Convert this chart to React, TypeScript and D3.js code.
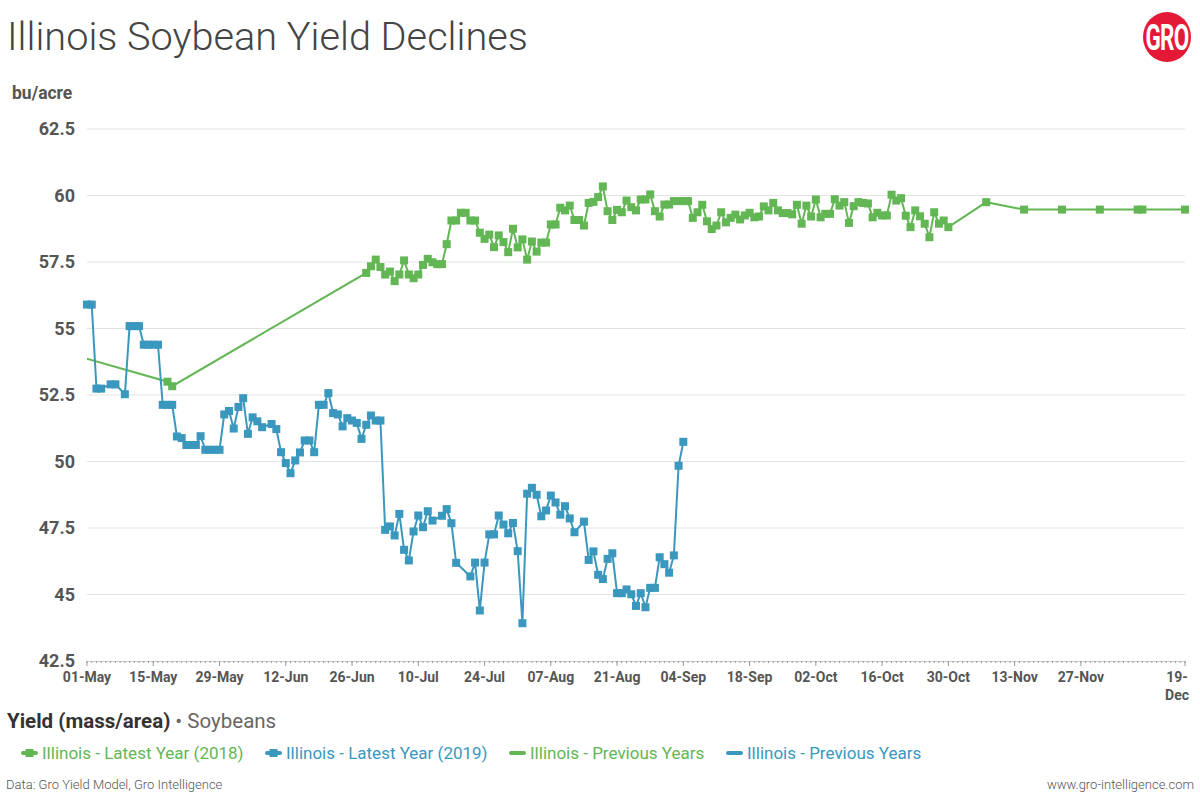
import * as d3 from 'd3';

const W = 1200;
const H = 800;
const plot = { left: 87, right: 1185, top: 129, bottom: 661 };

const GREEN = '#62b654';
const BLUE = '#3a97be';

const yTicks = [42.5, 45, 47.5, 50, 52.5, 55, 57.5, 60, 62.5];
const xTickDates = ['05-01', '05-15', '05-29', '06-12', '06-26', '07-10', '07-24', '08-07', '08-21', '09-04', '09-18', '10-02', '10-16', '10-30', '11-13', '11-27', '12-19'];

// Illinois - Latest Year (2019)
const dates2019 = [
  '05-01', '05-02', '05-03', '05-04', '05-06', '05-07', '05-09', '05-10', '05-11', '05-12', '05-13', '05-14', '05-15', '05-16',
  '05-17', '05-18', '05-19', '05-20', '05-21', '05-22', '05-23', '05-24', '05-25', '05-26', '05-27', '05-28', '05-29', '05-30',
  '05-31', '06-01', '06-02', '06-03', '06-04', '06-05', '06-06', '06-07', '06-09', '06-10', '06-11', '06-12', '06-13', '06-14',
  '06-15', '06-16', '06-17', '06-18', '06-19', '06-20', '06-21', '06-22', '06-23', '06-24', '06-25', '06-26', '06-27', '06-28',
  '06-29', '06-30', '07-01', '07-02', '07-03', '07-04', '07-05', '07-06', '07-07', '07-08', '07-09', '07-10', '07-11', '07-12',
  '07-13', '07-15', '07-16', '07-17', '07-18', '07-21', '07-22', '07-23', '07-24', '07-25', '07-26', '07-27', '07-28', '07-29',
  '07-30', '07-31', '08-01', '08-02', '08-03', '08-04', '08-05', '08-06', '08-07', '08-08', '08-09', '08-10', '08-11', '08-12',
  '08-14', '08-15', '08-16', '08-17', '08-18', '08-19', '08-20', '08-21', '08-22', '08-23', '08-24', '08-25', '08-26', '08-27',
  '08-28', '08-29', '08-30', '08-31', '09-01', '09-02', '09-03', '09-04',
];
const values2019 = [
  55.9, 55.9, 52.74, 52.74, 52.9, 52.9, 52.53, 55.09, 55.09, 55.09, 54.39, 54.39, 54.39, 54.39,
  52.13, 52.13, 52.13, 50.94, 50.88, 50.62, 50.62, 50.62, 50.95, 50.44, 50.44, 50.44, 50.44, 51.77,
  51.9, 51.24, 52.05, 52.38, 51.04, 51.66, 51.51, 51.29, 51.41, 51.22, 50.35, 49.94, 49.56, 50.04,
  50.34, 50.79, 50.79, 50.35, 52.13, 52.13, 52.57, 51.82, 51.77, 51.32, 51.63, 51.54, 51.45, 50.85,
  51.38, 51.73, 51.54, 51.54, 47.43, 47.56, 47.22, 48.03, 46.68, 46.28, 47.37, 47.97, 47.53, 48.13,
  47.78, 47.96, 48.21, 47.68, 46.19, 45.68, 46.2, 44.4, 46.2, 47.26, 47.26, 47.97, 47.63, 47.3,
  47.69, 46.63, 43.92, 48.79, 49.01, 48.75, 47.94, 48.16, 48.72, 48.46, 48.0, 48.32, 47.86, 47.34,
  47.74, 46.3, 46.62, 45.74, 45.58, 46.34, 46.55, 45.05, 45.05, 45.19, 45.01, 44.57, 45.05, 44.52,
  45.25, 45.25, 46.4, 46.14, 45.82, 46.47, 49.84, 50.74,
];

// Illinois - Latest Year (2018), first value lies before the axis start
const dates2018 = [
  '04-17', '05-18', '05-19', '06-29', '06-30', '07-01', '07-02', '07-03', '07-04', '07-05', '07-06', '07-07', '07-08', '07-09',
  '07-10', '07-11', '07-12', '07-13', '07-14', '07-15', '07-16', '07-17', '07-18', '07-19', '07-20', '07-21', '07-22', '07-23',
  '07-24', '07-25', '07-26', '07-27', '07-28', '07-29', '07-30', '07-31', '08-01', '08-02', '08-03', '08-04', '08-05', '08-06',
  '08-07', '08-08', '08-09', '08-10', '08-11', '08-12', '08-13', '08-14', '08-15', '08-16', '08-17', '08-18', '08-19', '08-20',
  '08-21', '08-22', '08-23', '08-24', '08-25', '08-26', '08-27', '08-28', '08-29', '08-30', '08-31', '09-01', '09-02', '09-03',
  '09-04', '09-05', '09-06', '09-07', '09-08', '09-09', '09-10', '09-11', '09-12', '09-13', '09-14', '09-15', '09-16', '09-17',
  '09-18', '09-19', '09-20', '09-21', '09-22', '09-23', '09-24', '09-25', '09-26', '09-27', '09-28', '09-29', '09-30', '10-01',
  '10-02', '10-03', '10-04', '10-05', '10-06', '10-07', '10-08', '10-09', '10-10', '10-11', '10-12', '10-13', '10-14', '10-15',
  '10-16', '10-17', '10-18', '10-19', '10-20', '10-21', '10-22', '10-23', '10-24', '10-25', '10-26', '10-27', '10-28', '10-29',
  '10-30', '11-07', '11-15', '11-23', '12-01', '12-09', '12-10', '12-19',
];
const values2018 = [
  54.57, 53.0, 52.83, 57.09, 57.34, 57.59, 57.31, 57.03, 57.14, 56.78, 57.03, 57.56, 57.03, 56.89,
  57.03, 57.39, 57.62, 57.49, 57.42, 57.42, 58.17, 59.06, 59.06, 59.35, 59.35, 59.06, 59.06, 58.6,
  58.37, 58.53, 58.06, 58.5, 58.25, 57.87, 58.75, 58.05, 58.35, 57.59, 58.27, 57.89, 58.23, 58.23,
  58.91, 58.91, 59.54, 59.44, 59.62, 59.08, 59.08, 58.87, 59.72, 59.76, 59.94, 60.34, 59.41, 59.08,
  59.46, 59.37, 59.81, 59.56, 59.44, 59.85, 59.85, 60.04, 59.41, 59.21, 59.66, 59.66, 59.79, 59.79,
  59.79, 59.79, 59.16, 59.37, 59.65, 59.03, 58.74, 58.87, 59.37, 58.99, 59.16, 59.28, 59.1, 59.25,
  59.35, 59.18, 59.21, 59.59, 59.44, 59.72, 59.44, 59.34, 59.34, 59.29, 59.65, 58.94, 59.62, 59.21,
  59.85, 59.18, 59.31, 59.31, 59.86, 59.62, 59.75, 58.97, 59.6, 59.75, 59.72, 59.7, 59.18, 59.35,
  59.25, 59.25, 60.03, 59.81, 59.9, 59.24, 58.81, 59.44, 59.22, 58.94, 58.43, 59.37, 58.94, 59.06,
  58.81, 59.75, 59.47, 59.47, 59.47, 59.47, 59.47, 59.47,
];

const legendItems = [
  { label: 'Illinois - Latest Year (2018)', color: GREEN, marker: true, x: 21 },
  { label: 'Illinois - Latest Year (2019)', color: BLUE, marker: true, x: 265 },
  { label: 'Illinois - Previous Years', color: GREEN, marker: false, x: 509 },
  { label: 'Illinois - Previous Years', color: BLUE, marker: false, x: 726 },
];

const parseDay = d3.timeParse('%Y-%m-%d');
const toDate = (s: string) => parseDay(`2019-${s}`) as Date;

type Pt = { date: Date; value: number };
const zip = (dates: string[], values: number[]): Pt[] => dates.map((d, i) => ({ date: toDate(d), value: values[i] }));

const series = [
  { key: 's2018', color: GREEN, data: zip(dates2018, values2018) },
  { key: 's2019', color: BLUE, data: zip(dates2019, values2019) },
];

export default function App() {
  const x = d3.scaleTime().domain([toDate('05-01'), toDate('12-19')]).range([plot.left, plot.right]);
  const y = d3.scaleLinear().domain([42.5, 62.5]).range([plot.bottom, plot.top]);
  const line = d3
    .line<Pt>()
    .x((d) => x(d.date))
    .y((d) => y(d.value));
  const fmt = d3.timeFormat('%d-%b');
  const minorTicks = d3.timeDay.range(toDate('05-01'), d3.timeDay.offset(toDate('12-19'), 1));
  const ms = 8;

  return (
    <div style={{ position: 'absolute', left: 0, top: 0 }}>
      <svg width={W} height={H} style={{ display: 'block', fontFamily: 'Roboto, sans-serif' }}>
        <rect width={W} height={H} fill="#fff" />
        <defs>
          <clipPath id="plot-clip">
            <rect x={plot.left} y={0} width={W - plot.left} height={H} />
          </clipPath>
        </defs>

        <text x={7} y={50} fontSize={39.7} fontWeight={300} fill="#444">
          Illinois Soybean Yield Declines
        </text>

        {/* logo */}
        <g transform="translate(1167,37)">
          <ellipse rx={24} ry={25} fill="#e31937" />
          <text
            x={0}
            y={10}
            textAnchor="middle"
            fontSize={30}
            fontWeight={700}
            fill="#fff"
            transform="scale(0.75,1.25)"
            style={{ letterSpacing: '-1px' }}
          >
            GRO
          </text>
        </g>

        <text x={12} y={99} fontSize={17.5} fontWeight={700} fill="#555">
          bu/acre
        </text>

        {/* grid + y labels */}
        {yTicks.map((t) => (
          <g key={t}>
            {t > 42.5 && <line x1={plot.left} x2={plot.right} y1={y(t)} y2={y(t)} stroke="#e3e3e3" />}
            <text x={75} y={y(t)} dy="0.35em" textAnchor="end" fontSize={18} fontWeight={700} fill="#555">
              {t}
            </text>
          </g>
        ))}

        {/* x axis */}
        <line x1={plot.left} x2={plot.right} y1={plot.bottom + 0.5} y2={plot.bottom + 0.5} stroke="#ccc" />
        {minorTicks.map((d, i) => (
          <line key={i} x1={x(d)} x2={x(d)} y1={plot.bottom} y2={plot.bottom + 2} stroke="#999" />
        ))}
        {xTickDates.map((s, i) => {
          const d = toDate(s);
          const last = i === xTickDates.length - 1;
          const label = fmt(d);
          return (
            <g key={s} transform={`translate(${x(d)},0)`}>
              <line y1={plot.bottom} y2={plot.bottom + 5} stroke="#999" />
              {last ? (
                <text textAnchor="middle" fontSize={14} fontWeight={700} fill="#555" y={plot.bottom + 21}>
                  <tspan x={-8}>{label.split('-')[0] + '-'}</tspan>
                  <tspan x={-8} dy={18}>
                    {label.split('-')[1]}
                  </tspan>
                </text>
              ) : (
                <text textAnchor="middle" fontSize={14} fontWeight={700} fill="#555" y={plot.bottom + 21}>
                  {label}
                </text>
              )}
            </g>
          );
        })}

        {/* series */}
        {series.map((s) => (
          <g key={s.key}>
            <path d={line(s.data) ?? ''} fill="none" stroke={s.color} strokeWidth={2} clipPath="url(#plot-clip)" />
            {s.data
              .filter((d) => d.date >= x.domain()[0])
              .map((d, i) => (
                <rect key={i} x={x(d.date) - ms / 2} y={y(d.value) - ms / 2} width={ms} height={ms} fill={s.color} />
              ))}
          </g>
        ))}

        {/* subtitle */}
        <text x={7} y={728} fontSize={20.5}>
          <tspan fontWeight={700} fill="#333">
            Yield (mass/area)
          </tspan>
          <tspan fill="#666" dx={5}>
            • Soybeans
          </tspan>
        </text>

        {/* legend */}
        {legendItems.map((it, i) => (
          <g key={i} transform={`translate(${it.x},753)`}>
            <line x1={2} x2={15} y1={0} y2={0} stroke={it.color} strokeWidth={4} strokeLinecap="round" />
            {it.marker && <rect x={4.5} y={-4} width={8} height={8} fill={it.color} />}
            <text x={21} y={0} dy="0.35em" fontSize={17} fill={it.color}>
              {it.label}
            </text>
          </g>
        ))}

        {/* footer */}
        <text x={6} y={789} fontSize={13} fontWeight={300} fill="#555">
          Data: Gro Yield Model, Gro Intelligence
        </text>
        <text x={1194} y={789} textAnchor="end" fontSize={13} fontWeight={300} fill="#555">
          www.gro-intelligence.com
        </text>
      </svg>
    </div>
  );
}
